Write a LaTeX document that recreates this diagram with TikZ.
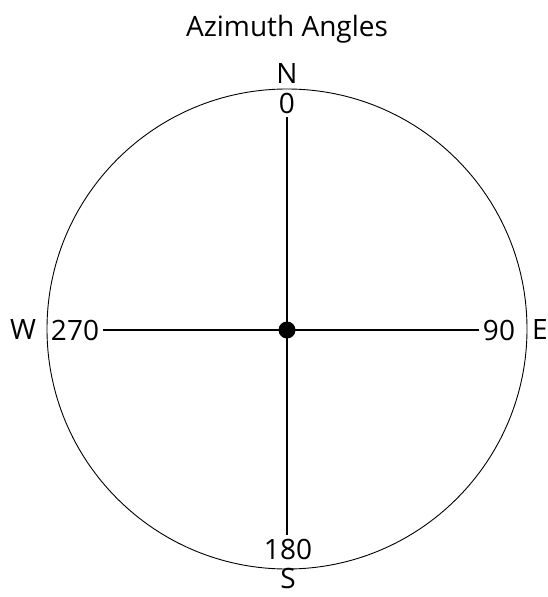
\documentclass[tikz,border=0pt]{standalone}
\usepackage{fontspec}
\setmainfont{Open Sans}
\usepackage{tikz}
\usetikzlibrary{positioning}
\tikzset{
    dirlbl/.style={font=\fontsize{28}{32}\selectfont, inner sep=1pt},
    anglbl/.style={font=\fontsize{28}{32}\selectfont, inner sep=4pt},
    axis/.style={line width=2.4pt, black},
    rim/.style={line width=0.9pt, black},
}

\begin{document}
\begin{tikzpicture}[x=1pt, y=-1pt]
    \useasboundingbox (0,0) rectangle (548,597);
    % Title
    \node[font=\fontsize{28}{32}\selectfont, anchor=base] (title) at (287,36) {Azimuth Angles};

    % Compass circle and centre
    \node[circle, draw, rim, minimum size=480pt, inner sep=0pt] (rose) at (287,329) {};
    \node[circle, fill=black, minimum size=17pt, inner sep=0pt] (ctr) at (287,330) {};

    % Directions
    \node[dirlbl] (north) at (287,74)  {N};
    \node[dirlbl] (south) at (288,578) {S};
    \node[dirlbl] (west)  at (23,330)  {W};
    \node[dirlbl] (east)  at (540,330) {E};

    % Angles
    \node[anglbl] (zero)        at (287,103) {0};
    \node[anglbl] (oneeighty)   at (288,549) {180};
    \node[anglbl] (twoseventy)  at (75,330)  {270};
    \node[anglbl] (ninety)      at (499,330) {90};

    % Axes
    \draw[axis] (zero) -- (zero |- oneeighty.north);
    \draw[axis] (twoseventy) -- (ninety);
\end{tikzpicture}
\end{document}
